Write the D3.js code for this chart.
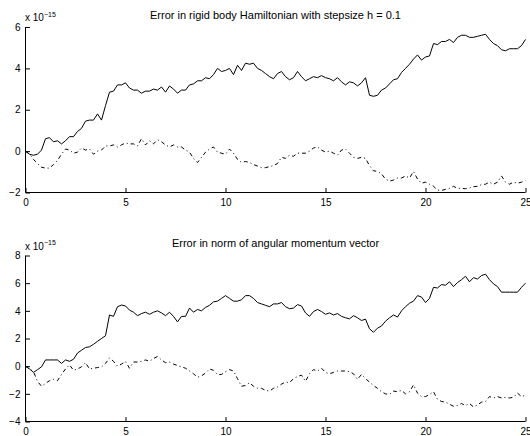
<!DOCTYPE html>
<html>
<head>
<meta charset="utf-8">
<script src="https://cdn.jsdelivr.net/npm/d3@7/dist/d3.min.js"></script>
<style>
  html, body { margin: 0; padding: 0; background: #fff; }
  svg { display: block; font-family: "Liberation Sans", Arial, Helvetica, sans-serif; }
</style>
</head>
<body>
<svg id="chart" width="530" height="436"></svg>
<script>
// Sample spacing of the stored error histories (time units)
const sampleStep = 0.2;
const sampleCount = 126;

const xTicks = [0, 5, 10, 15, 20, 25];
const yTicksHamiltonian = [-2, 0, 2, 4, 6];
const yTicksMomentum = [-4, -2, 0, 2, 4, 6, 8];

const titleHamiltonian = "Error in rigid body Hamiltonian with stepsize h = 0.1";
const titleMomentum = "Error in norm of angular momentum vector";

// Energy error (units of 1e-15): solid method
const hamiltonianSolid = [
  0.0, -0.15, -0.2, -0.15, 0.05, 0.6, 0.65, 0.45, 0.5, 0.35,
  0.5, 0.7, 0.7, 0.95, 1.1, 1.45, 1.5, 1.5, 1.8, 1.5,
  2.2, 2.85, 2.9, 3.2, 3.2, 3.3, 3.05, 2.95, 2.95, 2.8,
  2.9, 2.9, 3.0, 2.95, 3.1, 2.85, 3.15, 3.0, 2.8, 2.95,
  2.95, 3.2, 3.25, 3.4, 3.4, 3.55, 3.5, 3.7, 4.0, 3.85,
  3.9, 4.0, 3.7, 4.15, 3.9, 4.25, 4.2, 4.25, 4.0, 3.9,
  3.75, 3.6, 3.5, 3.75, 3.85, 3.6, 3.45, 3.55, 3.85, 3.6,
  3.4, 3.5, 3.6, 3.55, 3.65, 3.55, 3.5, 3.4, 3.55, 3.35,
  3.2, 3.35, 3.3, 3.15, 3.3, 3.55, 2.7, 2.65, 2.7, 2.95,
  3.05, 3.25, 3.45, 3.5, 3.8, 4.0, 4.2, 4.45, 4.65, 4.4,
  4.55, 4.6, 5.2, 5.15, 5.3, 5.3, 5.4, 5.25, 5.5, 5.6,
  5.6, 5.5, 5.5, 5.55, 5.6, 5.65, 5.4, 5.2, 5.1, 4.9,
  4.85, 4.95, 4.95, 4.95, 5.1, 5.4
];

// Energy error (units of 1e-15): dash-dot method
const hamiltonianDashDot = [
  0.0, -0.15, -0.4, -0.6, -0.78, -0.82, -0.82, -0.65, -0.45, -0.15,
  0.1, 0.05, -0.1, -0.05, 0.15, 0.05, 0.1, -0.15, 0.0, 0.05,
  0.25, 0.25, 0.3, 0.2, 0.3, 0.4, 0.35, 0.35, 0.25, 0.6,
  0.3, 0.5, 0.35, 0.55, 0.45, 0.3, 0.2, 0.3, 0.2, 0.2,
  0.05, -0.05, -0.35, -0.55, -0.3, -0.05, 0.1, 0.2, -0.05, -0.1,
  -0.15, 0.1, -0.1, -0.4, -0.55, -0.5, -0.55, -0.65, -0.72, -0.8,
  -0.8, -0.75, -0.7, -0.6, -0.3, -0.35, -0.2, -0.25, -0.1, -0.1,
  -0.1, 0.0, 0.15, 0.2, 0.05, -0.05, 0.0, -0.1, -0.2, 0.05,
  0.1, -0.1, -0.3, -0.35, -0.3, -0.35, -0.7, -0.95, -0.98, -1.1,
  -1.35, -1.45, -1.4, -1.3, -1.3, -1.2, -1.3, -0.98, -1.35, -1.55,
  -1.5, -1.6, -1.7, -1.88, -1.9, -1.85, -1.8, -1.7, -1.8, -1.8,
  -1.82, -1.78, -1.72, -1.7, -1.62, -1.6, -1.5, -1.6, -1.5, -1.2,
  -1.5, -1.6, -1.5, -1.55, -1.5, -1.42
];

// Angular momentum norm error (units of 1e-15): solid method
const momentumSolid = [
  0.0, -0.2, -0.45, -0.25, -0.05, 0.45, 0.45, 0.45, 0.45, 0.2,
  0.45, 0.35, 0.5, 0.95, 1.15, 1.35, 1.4, 1.58, 1.8, 2.0,
  2.2, 3.7, 3.6, 4.3, 4.42, 4.35, 4.05, 3.9, 3.65, 3.8,
  3.9, 3.75, 3.9, 4.0, 3.85, 3.65, 3.9, 3.6, 3.2, 3.6,
  3.6, 4.2, 3.9, 4.1, 4.0, 4.25, 4.4, 4.65, 4.7, 4.9,
  5.1, 4.9, 4.7, 4.7, 4.8, 5.1, 5.1, 4.9, 4.6, 4.5,
  4.4, 4.3, 4.5, 4.5, 4.6, 4.3, 4.15, 4.2, 4.45, 4.35,
  3.85, 3.6, 3.95, 4.1, 3.95, 3.75, 3.85, 3.7, 3.8, 3.6,
  3.5, 3.42, 3.65, 3.5, 3.3, 3.4, 2.7, 2.45, 2.75, 2.9,
  3.25, 3.5, 3.7, 3.55, 4.0, 4.3, 4.55, 4.7, 5.1, 5.0,
  4.6, 4.9, 5.7, 5.65, 5.9, 5.85, 6.1, 5.75, 6.05, 6.25,
  6.5, 6.1, 6.4, 6.3, 6.55, 6.65, 6.25, 5.95, 5.75, 5.35,
  5.35, 5.35, 5.35, 5.35, 5.7, 6.0
];

// Angular momentum norm error (units of 1e-15): dash-dot method
const momentumDashDot = [
  0.0, -0.2, -0.4, -1.1, -1.45, -1.25, -1.05, -0.95, -1.05, -0.6,
  -0.2, 0.1, -0.3, -0.2, -0.05, 0.25, -0.2, -0.15, -0.1, -0.05,
  0.2, 0.6, 0.35, 0.0, 0.15, 0.35, -0.15, 0.3, 0.3, 0.35,
  0.45, 0.35, 0.55, 0.7, 0.45, 0.25, 0.3, 0.15, 0.05, -0.05,
  -0.15, -0.35, -0.55, -0.8, -0.7, -0.5, -0.2, -0.3, -0.6, -0.6,
  -0.4, -0.25, -0.35, -0.9, -1.45, -1.4, -1.2, -1.45, -1.6, -1.6,
  -1.75, -1.8, -1.6, -1.5, -1.3, -1.15, -1.2, -0.9, -0.75, -0.65,
  -1.1, -0.55, -0.25, -0.35, -0.15, -0.45, -0.55, -0.45, -0.35, -0.35,
  -0.35, -0.4, -0.55, -0.95, -0.6, -0.9, -1.15, -1.4, -1.6, -1.85,
  -2.0, -2.05, -1.8, -1.85, -1.75, -2.0, -1.85, -1.35, -1.95, -2.2,
  -2.2, -2.05, -1.85, -2.4, -2.55, -2.6, -2.75, -2.9, -2.85, -2.7,
  -2.85, -2.7, -2.95, -2.8, -2.6, -2.55, -2.2, -2.3, -2.2, -2.3,
  -2.25, -2.3, -2.25, -1.95, -2.2, -2.1
];

const times = d3.range(sampleCount).map(i => +(i * sampleStep).toFixed(2));

const svg = d3.select("#chart");
const left = 25.5, right = 525.5;

const panels = [
  {
    title: titleHamiltonian, top: 27, bottom: 192.5,
    domain: [-2, 6], ticks: yTicksHamiltonian,
    solid: hamiltonianSolid, dashdot: hamiltonianDashDot
  },
  {
    title: titleMomentum, top: 255.5, bottom: 421.5,
    domain: [-4, 8], ticks: yTicksMomentum,
    solid: momentumSolid, dashdot: momentumDashDot
  }
];

const fmt = v => (v < 0 ? "\u2212" + Math.abs(v) : String(v));

panels.forEach(p => {
  const x = d3.scaleLinear().domain([0, 25]).range([left, right]);
  const y = d3.scaleLinear().domain(p.domain).range([p.bottom, p.top]);

  const g = svg.append("g");

  // Data lines
  const line = d3.line().x((d, i) => x(times[i])).y(d => y(d));
  g.append("path").datum(p.solid)
    .attr("d", line).attr("fill", "none")
    .attr("stroke", "#000").attr("stroke-width", 1);
  g.append("path").datum(p.dashdot)
    .attr("d", line).attr("fill", "none")
    .attr("stroke", "#000").attr("stroke-width", 1)
    .attr("stroke-dasharray", "4,3,1,3");

  // Axes with inward ticks
  const xAxis = d3.axisBottom(x).tickValues(xTicks).tickSize(-4.5).tickPadding(6).tickFormat(fmt);
  const yAxis = d3.axisLeft(y).tickValues(p.ticks).tickSize(-4.5).tickPadding(5).tickFormat(fmt);

  const gx = g.append("g").attr("transform", `translate(0,${p.bottom})`).call(xAxis);
  const gy = g.append("g").attr("transform", `translate(${left},0)`).call(yAxis);
  [gx, gy].forEach(a => {
    a.select(".domain").remove();
    a.selectAll(".tick line").attr("stroke", "#000");
    a.selectAll(".tick text").attr("fill", "#000").style("font-size", "10px")
      .style("font-family", "'Liberation Sans', Arial, sans-serif");
  });
  g.append("line").attr("x1", left).attr("x2", right).attr("y1", p.bottom).attr("y2", p.bottom)
    .attr("stroke", "#000");
  g.append("line").attr("x1", left).attr("x2", left).attr("y1", p.top).attr("y2", p.bottom)
    .attr("stroke", "#000");

  // Exponent label
  const ex = g.append("text").attr("x", left - 0.5).attr("y", p.top - 6)
    .style("font-size", "10px").attr("fill", "#000");
  ex.append("tspan").text("x 10");
  ex.append("tspan").attr("dy", -4.5).style("font-size", "7px").text("\u221215");

  // Title
  g.append("text").attr("x", (left + right) / 2).attr("y", p.top - 8.5)
    .attr("text-anchor", "middle").style("font-size", "11px").attr("fill", "#000")
    .text(p.title);
});
</script>
</body>
</html>
